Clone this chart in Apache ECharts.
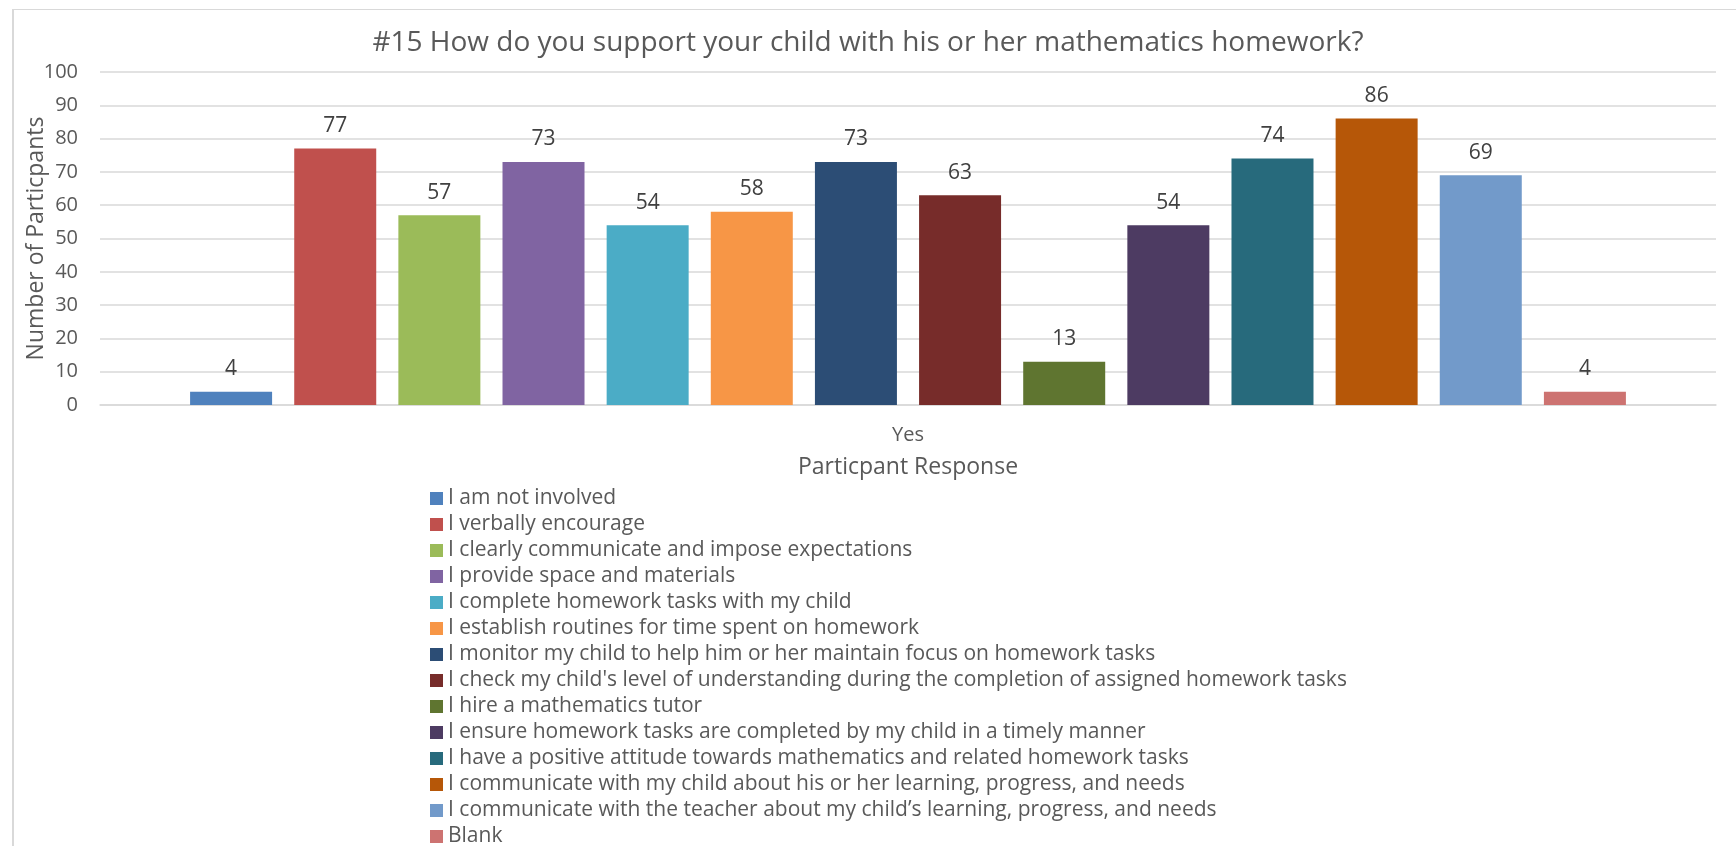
<!DOCTYPE html>
<html>
<head>
<meta charset="utf-8">
<title>#15 How do you support your child with his or her mathematics homework?</title>
<script src="https://cdn.jsdelivr.net/npm/echarts@6/dist/echarts.min.js"></script>
<style>
  html, body { margin: 0; padding: 0; background: #ffffff; }
  #chart { width: 1736px; height: 846px; }
</style>
</head>
<body>
<div id="chart"></div>
<script>
// Survey question #15: one response group, one bar per support strategy.
const categories = ['Yes'];

const responseNames = [
  'I am not involved',
  'I verbally encourage',
  'I clearly communicate and impose expectations',
  'I provide space and materials',
  'I complete homework tasks with my child',
  'I establish routines for time spent on homework',
  'I monitor my child to help him or her maintain focus on homework tasks',
  "I check my child's level of understanding during the completion of assigned homework tasks",
  'I hire a mathematics tutor',
  'I ensure homework tasks are completed by my child in a timely manner',
  'I have a positive attitude towards mathematics and related homework tasks',
  'I communicate with my child about his or her learning, progress, and needs',
  'I communicate with the teacher about my child\u2019s learning, progress, and needs',
  'Blank'
];

const responseCounts = [4, 77, 57, 73, 54, 58, 73, 63, 13, 54, 74, 86, 69, 4];

const barColors = [
  '#4F81BD', '#C0504D', '#9BBB59', '#8064A2', '#4BACC6', '#F79646', '#2C4D75',
  '#772C2A', '#5F7530', '#4D3B62', '#276A7C', '#B65708', '#729ACA', '#CD7371'
];

const yTicks = { min: 0, max: 100, interval: 10 };

const FONT = '"Open Sans", "Noto Sans", sans-serif';
const TEXT_GREY = '#595959';
const GRID_GREY = '#d9d9d9';

const series = responseNames.map((name, i) => ({
  name: name,
  type: 'bar',
  data: [responseCounts[i]],
  barWidth: 82,
  barGap: '27%',
  itemStyle: { color: barColors[i] },
  label: {
    show: true,
    position: 'top',
    distance: 12,
    fontFamily: FONT,
    fontSize: 21,
    color: '#404040'
  }
}));

const chart = echarts.init(document.getElementById('chart'), null, { renderer: 'canvas' });

chart.setOption({
  backgroundColor: '#ffffff',
  animation: false,
  title: {
    text: '#15 How do you support your child with his or her mathematics homework?',
    left: 'center',
    top: 24,
    textStyle: { fontFamily: FONT, fontSize: 28, fontWeight: 'normal', color: TEXT_GREY }
  },
  grid: { left: 100, right: 20, top: 72, bottom: 441, containLabel: false },
  xAxis: {
    type: 'category',
    data: categories,
    axisLine: { show: true, lineStyle: { color: GRID_GREY, width: 1.5 } },
    axisTick: { show: false },
    axisLabel: { fontFamily: FONT, fontSize: 20, color: TEXT_GREY, margin: 20 },
    name: 'Particpant Response',
    nameLocation: 'middle',
    nameGap: 51,
    nameMoveOverlap: false,
    nameTextStyle: { fontFamily: FONT, fontSize: 23, color: TEXT_GREY }
  },
  yAxis: {
    type: 'value',
    min: yTicks.min,
    max: yTicks.max,
    interval: yTicks.interval,
    axisLine: { show: false },
    axisTick: { show: false },
    splitLine: { show: true, lineStyle: { color: GRID_GREY, width: 1.5 } },
    axisLabel: { fontFamily: FONT, fontSize: 20, color: TEXT_GREY, margin: 22 },
    name: 'Number of Particpants',
    nameLocation: 'middle',
    nameRotate: 90,
    nameGap: 52,
    nameMoveOverlap: false,
    nameTextStyle: { fontFamily: FONT, fontSize: 23, color: TEXT_GREY }
  },
  legend: {
    orient: 'vertical',
    left: 430,
    top: 488,
    height: 372,
    padding: 0,
    itemWidth: 13,
    itemHeight: 13,
    itemGap: 5,
    icon: 'rect',
    data: responseNames,
    selectedMode: false,
    textStyle: { fontFamily: FONT, fontSize: 21, color: TEXT_GREY }
  },
  graphic: [
    {
      type: 'line',
      shape: { x1: 13, y1: 9, x2: 13, y2: 846 },
      style: { stroke: GRID_GREY, lineWidth: 2 },
      silent: true
    },
    {
      type: 'line',
      shape: { x1: 12, y1: 9.5, x2: 1736, y2: 9.5 },
      style: { stroke: GRID_GREY, lineWidth: 1 },
      silent: true
    }
  ],
  series: series
});
</script>
</body>
</html>
